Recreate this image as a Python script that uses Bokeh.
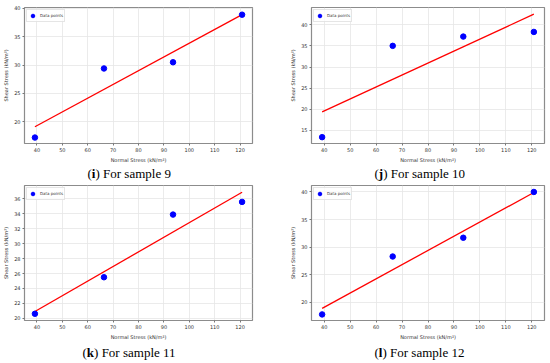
from bokeh.plotting import figure
from bokeh.layouts import row, column
from bokeh.models import Range1d, FixedTicker, Label, Legend, LegendItem
from bokeh.embed import file_html
from bokeh.resources import INLINE

# ---------------- data ----------------
normal_stress = [39.2, 66.4, 93.6, 120.8]
fit_x = [39.2, 120.8]

shear_s9 = [17.2, 29.4, 30.5, 38.9]
fit_s9 = [19.1, 38.9]

shear_s10 = [13.4, 35.0, 37.2, 38.3]
fit_s10 = [19.4, 42.5]

shear_s11 = [20.6, 25.5, 33.9, 35.6]
fit_s11 = [20.9, 36.9]

shear_s12 = [17.8, 28.3, 31.7, 40.0]
fit_s12 = [18.9, 39.9]

x_ticks = [40, 50, 60, 70, 80, 90, 100, 110, 120]
y_ticks_s9 = [20, 25, 30, 35, 40]
y_ticks_s10 = [15, 20, 25, 30, 35, 40]
y_ticks_s11 = [20, 22, 24, 26, 28, 30, 32, 34, 36]
y_ticks_s12 = [20, 25, 30, 35, 40]

# axis limits
x_lim = (35.1, 124.9)
y_lim_s9 = (16.15, 40.17)
y_lim_s10 = (11.9, 44.08)
y_lim_s11 = (19.7, 37.8)
y_lim_s12 = (16.7, 41.17)

panel_letters = ["i", "j", "k", "l"]
sample_names = ["9", "10", "11", "12"]

x_title = "Normal Stress (kN/m\u00b2)"
y_title = "Shear Stress (kN/m\u00b2)"
legend_text = "Data points"

SANS = "DejaVu Sans"
SERIF = "Liberation Serif"
BOLD_W = {"i": 3.61, "j": 4.33, "k": 7.23, "l": 3.61}


def panel(shear, fit, yticks, ylim, width, height, bl, br, bt, bb):
    p = figure(width=width, height=height, output_backend="svg",
               toolbar_location=None,
               x_range=Range1d(*x_lim), y_range=Range1d(*ylim),
               min_border_left=bl, min_border_right=br,
               min_border_top=bt, min_border_bottom=bb)
    p.background_fill_color = "white"
    p.border_fill_color = "white"
    p.outline_line_color = "#8c8c8c"
    p.outline_line_width = 1.2

    for ax in (p.xaxis, p.yaxis):
        ax.axis_line_color = None
        ax.major_tick_line_color = "#555555"
        ax.major_tick_line_width = 0.8
        ax.major_tick_in = 0
        ax.major_tick_out = 2
        ax.minor_tick_line_color = None
        ax.major_label_text_font = SANS
        ax.major_label_text_font_size = "5px"
        ax.major_label_text_color = "#333333"
        ax.axis_label_text_font = SANS
        ax.axis_label_text_font_size = "5px"
        ax.axis_label_text_font_style = "normal"
        ax.axis_label_text_color = "#333333"
        ax.major_label_standoff = 2
        ax.axis_label_standoff = 2

    p.xaxis.ticker = FixedTicker(ticks=x_ticks)
    p.yaxis.ticker = FixedTicker(ticks=yticks)
    p.xaxis.axis_label = x_title
    p.yaxis.axis_label = y_title

    p.xgrid.ticker = FixedTicker(ticks=x_ticks)
    p.ygrid.ticker = FixedTicker(ticks=yticks)
    for g in (p.xgrid, p.ygrid):
        g.grid_line_color = "#e6e6e6"
        g.grid_line_width = 0.8

    p.line(fit_x, fit, line_color="#ff0000", line_width=1.3)
    pts = p.scatter(normal_stress, shear, size=5.5, fill_color="#0000ff",
                    line_color="#0000ff")

    leg = Legend(items=[LegendItem(label=legend_text, renderers=[pts])],
                 location="top_left")
    leg.margin = 2
    leg.padding = 1
    leg.spacing = 0
    leg.glyph_width = 9
    leg.glyph_height = 9
    leg.label_height = 7
    leg.label_standoff = 3
    leg.label_text_font = SANS
    leg.label_text_font_size = "4px"
    leg.label_text_color = "#333333"
    leg.label_text_baseline = "middle"
    leg.border_line_color = "#cccccc"
    leg.border_line_width = 0.8
    leg.background_fill_alpha = 0.8
    p.add_layout(leg)
    return p


def caption(letter, sample, width, height, cap_x, cap_y):
    c = figure(width=width, height=height, output_backend="svg",
               toolbar_location=None, x_range=Range1d(0, 1),
               y_range=Range1d(0, 1), min_border=0,
               x_axis_type=None, y_axis_type=None)
    c.outline_line_color = None
    c.xgrid.visible = False
    c.ygrid.visible = False
    c.background_fill_color = "white"
    c.border_fill_color = "white"
    common = dict(x_units="screen", y_units="screen", y=cap_y,
                  text_font=SERIF, text_font_size="13px",
                  text_color="#000000", text_baseline="middle",
                  text_align="left")
    c.add_layout(Label(x=cap_x, text="(", **common))
    c.add_layout(Label(x=cap_x + 4.33, text=letter,
                       text_font_style="bold", **common))
    c.add_layout(Label(x=cap_x + 4.33 + BOLD_W[letter],
                       text=") For sample " + sample, **common))
    return c


p9 = panel(shear_s9, fit_s9, y_ticks_s9, y_lim_s9, 275, 165, 21, 23, 7, 18)
p10 = panel(shear_s10, fit_s10, y_ticks_s10, y_lim_s10, 275, 165, 36, 6, 7, 18)
p11 = panel(shear_s11, fit_s11, y_ticks_s11, y_lim_s11, 275, 159, 21, 23, 2, 18)
p12 = panel(shear_s12, fit_s12, y_ticks_s12, y_lim_s12, 275, 159, 36, 6, 2, 18)

c9 = caption(panel_letters[0], sample_names[0], 275, 18, 87, 10)
c10 = caption(panel_letters[1], sample_names[1], 275, 18, 99, 10)
c11 = caption(panel_letters[2], sample_names[2], 275, 21, 82, 11)
c12 = caption(panel_letters[3], sample_names[3], 275, 21, 99, 11)

layout = column(row(p9, p10), row(c9, c10), row(p11, p12), row(c11, c12))

open("out.html", "w").write(file_html(layout, INLINE))
